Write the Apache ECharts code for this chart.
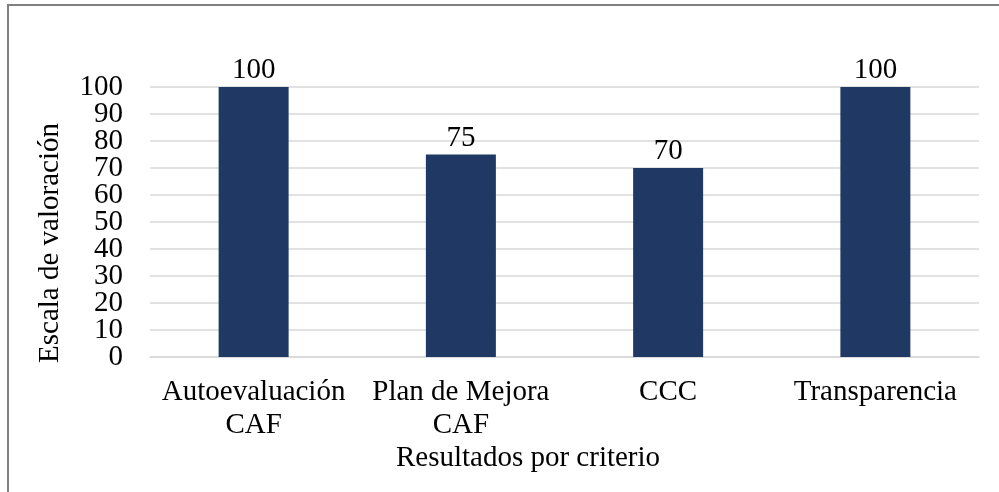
<!DOCTYPE html>
<html>
<head>
<meta charset="utf-8">
<script src="https://cdn.jsdelivr.net/npm/echarts@6/dist/echarts.min.js"></script>
<style>
  html, body { margin: 0; padding: 0; background: #fff; }
  #chart { width: 999px; height: 492px; }
</style>
</head>
<body>
<div id="chart"></div>
<script>
const categories = ['Autoevaluación\nCAF', 'Plan de Mejora\nCAF', 'CCC', 'Transparencia'];
const values = [100, 75, 70, 100];
const yTicks = { min: 0, max: 100, interval: 10 };

const font = 'Liberation Serif, Times New Roman, serif';
const fs = 29;
const chart = echarts.init(document.getElementById('chart'));

// las etiquetas del eje Y se reparten en dos ejes (pares / impares)
// para que ECharts no oculte ninguna por solapamiento
function yAxisPart(even, showGrid) {
  return {
    type: 'value',
    position: 'left',
    min: yTicks.min,
    max: yTicks.max,
    interval: yTicks.interval,
    axisLine: { show: false },
    axisTick: { show: false },
    axisLabel: {
      color: '#000', fontSize: fs, fontFamily: font, margin: 27,
      hideOverlap: false,
      formatter: (v) => ((v / yTicks.interval) % 2 === 0) === even ? String(v) : '',
    },
    splitLine: { show: showGrid, lineStyle: { color: '#d9d9d9', width: 1.5 } },
  };
}

chart.setOption({
  animation: false,
  textStyle: { fontFamily: font },
  grid: { left: 150, right: 20, top: 87, bottom: 135, containLabel: false },
  xAxis: {
    type: 'category',
    data: categories,
    axisLine: { show: true, lineStyle: { color: '#d9d9d9', width: 1.5 } },
    axisTick: { show: false },
    axisLabel: {
      color: '#000', fontSize: fs, fontFamily: font, lineHeight: 33, margin: 19,
      interval: 0, hideOverlap: false,
    },
  },
  yAxis: [yAxisPart(true, true), yAxisPart(false, false)],
  series: [
    {
      type: 'bar',
      data: values,
      barWidth: 70,
      itemStyle: { color: '#203864' },
      label: { show: true, position: 'top', distance: 2, color: '#000', fontSize: fs, fontFamily: font },
    },
  ],
  graphic: [
    // marco del gráfico
    {
      type: 'rect',
      shape: { x: 8, y: 5, width: 1100, height: 600 },
      style: { fill: 'none', stroke: '#808080', lineWidth: 2 },
    },
    {
      type: 'text',
      x: 50,
      y: 243,
      rotation: Math.PI / 2,
      style: { text: 'Escala de valoración', font: fs + 'px ' + font, fill: '#000', textAlign: 'center', textVerticalAlign: 'middle' },
    },
    {
      type: 'text',
      x: 528,
      y: 458,
      style: { text: 'Resultados por criterio', font: fs + 'px ' + font, fill: '#000', textAlign: 'center', textVerticalAlign: 'middle' },
    },
  ],
});
</script>
</body>
</html>
